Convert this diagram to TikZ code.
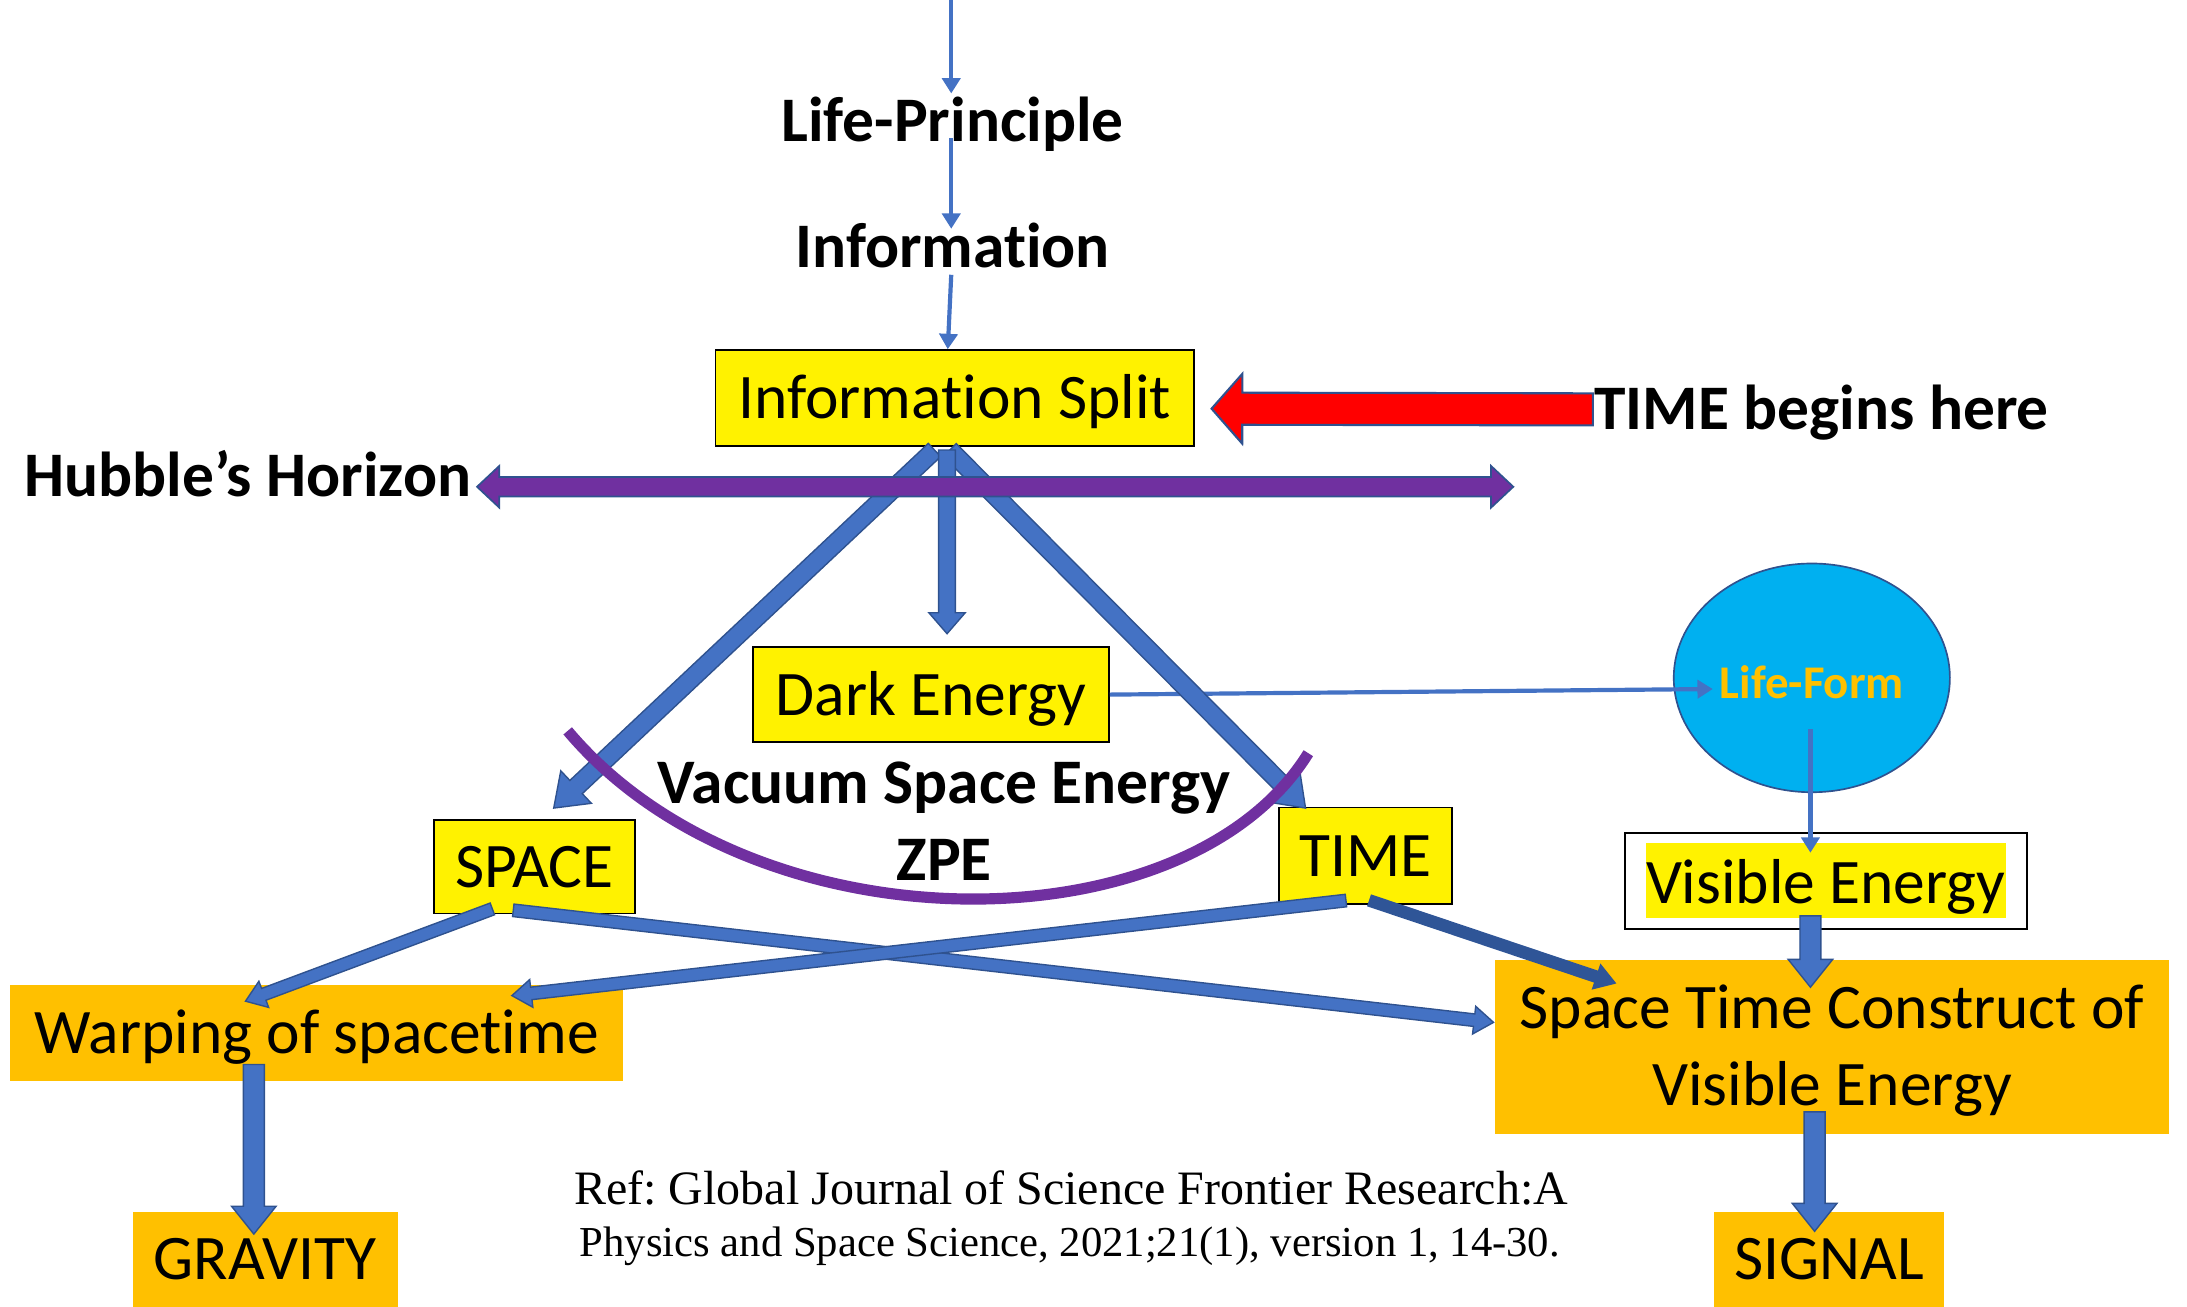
\documentclass[tikz,border=0pt]{standalone}
\usepackage{fontspec}
\setmainfont{Carlito}[Ligatures=NoCommon]
\newfontfamily\reffont{Liberation Serif}
\usetikzlibrary{calc,arrows.meta,shapes.geometric}
\definecolor{blueA}{HTML}{4472C4}
\definecolor{blueEdge}{HTML}{2F528F}
\definecolor{blueDark}{HTML}{2F5597}
\definecolor{purpleC}{HTML}{7030A0}
\definecolor{orangeY}{HTML}{FFC000}
\definecolor{cyanC}{HTML}{00B0F0}
\newcommand\mfs{\fontsize{45.5}{55}\selectfont}
% block arrow: [style]{start}{end}{shaft half width}{head half width}{head length}
\newcommand\blkarrow[6][]{%
  \coordinate (bA) at (#2);
  \coordinate (bB) at (#3);
  \coordinate (bH) at ($(bB)!#6pt!(bA)$);
  \draw[blockarrow,#1] ($(bA)!#4pt!90:(bB)$) -- ($(bH)!#4pt!90:(bB)$) -- ($(bH)!#5pt!90:(bB)$) -- (bB)
     -- ($(bH)!#5pt!-90:(bB)$) -- ($(bH)!#4pt!-90:(bB)$) -- ($(bA)!#4pt!-90:(bB)$) -- cycle;
}
% double headed block arrow
\newcommand\dblarrow[6][]{%
  \coordinate (dA) at (#2);
  \coordinate (dB) at (#3);
  \coordinate (dHA) at ($(dA)!#6pt!(dB)$);
  \coordinate (dHB) at ($(dB)!#6pt!(dA)$);
  \draw[blockarrow,#1] (dA) -- ($(dHA)!#5pt!90:(dB)$) -- ($(dHA)!#4pt!90:(dB)$) -- ($(dHB)!#4pt!90:(dB)$)
     -- ($(dHB)!#5pt!90:(dB)$) -- (dB) -- ($(dHB)!#5pt!-90:(dB)$) -- ($(dHB)!#4pt!-90:(dB)$)
     -- ($(dHA)!#4pt!-90:(dB)$) -- ($(dHA)!#5pt!-90:(dB)$) -- cycle;
}
\tikzset{
  mtxt/.style={font=\mfs, inner sep=0pt, text height=29.3pt, text depth=0pt},
  btxt/.style={mtxt, font=\mfs\bfseries},
  ybox/.style={mtxt, draw=black, line width=1.3pt, fill=yellow},
  obox/.style={mtxt, fill=orangeY},
  thinarrow/.style={draw=blueA, line width=3pt, -{Triangle[width=13pt,length=11pt]}},
  blockarrow/.style={fill=blueA, draw=blueEdge, line width=1pt, line join=miter},
}
\begin{document}
\frenchspacing
\begin{tikzpicture}[x=1pt,y=-1pt]
\useasboundingbox (0,0) rectangle (1568,937);

% boxes
\node[ybox, minimum width=343, minimum height=69] (split) at (684.5,285.5) {Information Split};
\node[ybox, minimum width=255, minimum height=68] (dark) at (667.5,498) {Dark Energy};
\node[ybox, minimum width=144, minimum height=67] (space) at (383,621.5) {SPACE};
\node[ybox, minimum width=124, minimum height=69] (time) at (979,613.5) {TIME};
\node[obox, minimum width=440, minimum height=69] (warp) at (227,740.5) {Warping of spacetime};
\node[obox, minimum width=190, minimum height=68] (grav) at (190,903) {GRAVITY};
\node[obox, minimum width=165, minimum height=68] (signal) at (1311.5,903) {SIGNAL};
\node[font=\mfs, inner sep=0pt, fill=orangeY, align=center, minimum width=483, minimum height=125] (stc) at (1313.5,750.5) {\rule{0pt}{37pt}Space Time Construct of\\Visible Energy};
\node[draw=black, line width=1.3pt, fill=white, minimum width=288, minimum height=69, inner sep=0pt, font=\mfs] (vis) at (1309,631.5)
  {{\setlength\fboxsep{0pt}\colorbox{yellow}{\rule[-11pt]{0pt}{54pt}Visible Energy}}};
\node[ellipse, draw=blueEdge, line width=1.2pt, fill=cyanC, minimum width=198, minimum height=164, inner sep=0pt,
  text height=29.6pt, text depth=0pt,
  font=\fontsize{33.6}{40}\selectfont\bfseries, text=orangeY] (lf) at (1299,486) {Life-Form};

% text nodes
\node[btxt] (lp) at (683,87) {Life-Principle};
\node[btxt] (info) at (683,177) {Information};
\node[btxt, anchor=west] (tb) at (1143,293) {TIME begins here};
\node[btxt, anchor=east] (hub) at (338,341) {Hubble’s Horizon};
\node[font=\reffont\fontsize{34.4}{40}\selectfont, inner sep=0pt, text height=22.8pt, text depth=0pt] (ref1) at (768,852)
  {Ref: Global Journal of Science Frontier Research:A};
\node[font=\reffont\fontsize{30.6}{36}\selectfont, inner sep=0pt, text height=20.3pt, text depth=0pt] (ref2) at (767,891)
  {Physics and Space Science, 2021;21(1), version 1, 14-30.};

% thin arrows
\coordinate (top) at (682,0);
\draw[thinarrow] (top) -- ($(lp)+(-1,-20)$);
\draw[thinarrow] ($(lp)+(-1,12)$) -- ($(info)+(-1,-13)$);
\draw[thinarrow] ($(info)+(-1,20)$) -- ($(split.north)+(-5,0)$);
\draw[thinarrow] (dark.east) -- ($(lf)+(-71,8)$);
\draw[thinarrow] ($(lf)+(-1,37)$) -- ($(vis.north)+(-11,15)$);

% block arrows from Information Split
\blkarrow{$(split.south)+(-14.5,2)$}{$(space.north)+(14,-8)$}{6.5}{16}{22}
\blkarrow{$(split.south)+(-3.5,2)$}{$(time.north)+(-43,1)$}{6.5}{16}{22}
\blkarrow{$(split.south)+(-5.5,2)$}{$(dark.north)+(11.5,-9)$}{6}{13}{15}

% crossing arrows
\blkarrow{$(space.south)+(-30,-4)$}{$(warp.north)+(-51,12)$}{4.5}{10}{14}
\blkarrow{$(space.south)+(-15,-3)$}{$(stc.west)+(-1,-17.5)$}{4.5}{10}{14}
\blkarrow{$(time.south)+(-14,-3)$}{$(warp.north)+(140,8)$}{4.5}{10}{14}
\blkarrow[fill=blueDark, draw=blueDark]{$(time.south)+(3,-3)$}{$(stc.north)+(-155.5,17)$}{4}{9}{14}

% thick downward arrows
\blkarrow{$(warp.south)+(-45,-12)$}{$(grav.north)+(-8,16)$}{7.5}{16}{20}
\blkarrow{$(vis.south)+(-11,-10)$}{$(stc.north)+(-15.5,20)$}{7.5}{16}{20}
\blkarrow{$(stc.south)+(-12.5,-16)$}{$(signal.north)+(-10.5,14)$}{7.5}{16}{20}

% red arrow
\blkarrow[fill=red, draw=blueEdge, line width=1.5pt]{$(tb.west)+(-1,0.5)$}{$(split.east)+(12,7.5)$}{11.5}{25}{22}

% Hubble's horizon double arrow
\coordinate (hr) at (1085,349);
\dblarrow[fill=purpleC, draw=blueEdge, line width=1.2pt]{$(hub.east)+(4,8)$}{hr}{7}{15}{16}

% purple arc
\coordinate (arcL) at (407,524);
\coordinate (arcR) at (938,540);
\draw[purpleC, line width=8pt] (arcL) .. controls (540,682) and (850,682) .. (arcR);

\node[font=\fontsize{45.5}{55}\selectfont\bfseries, inner sep=0pt, align=center] (vac) at (677,588.5) {Vacuum Space Energy\\ZPE};
\end{tikzpicture}
\end{document}
